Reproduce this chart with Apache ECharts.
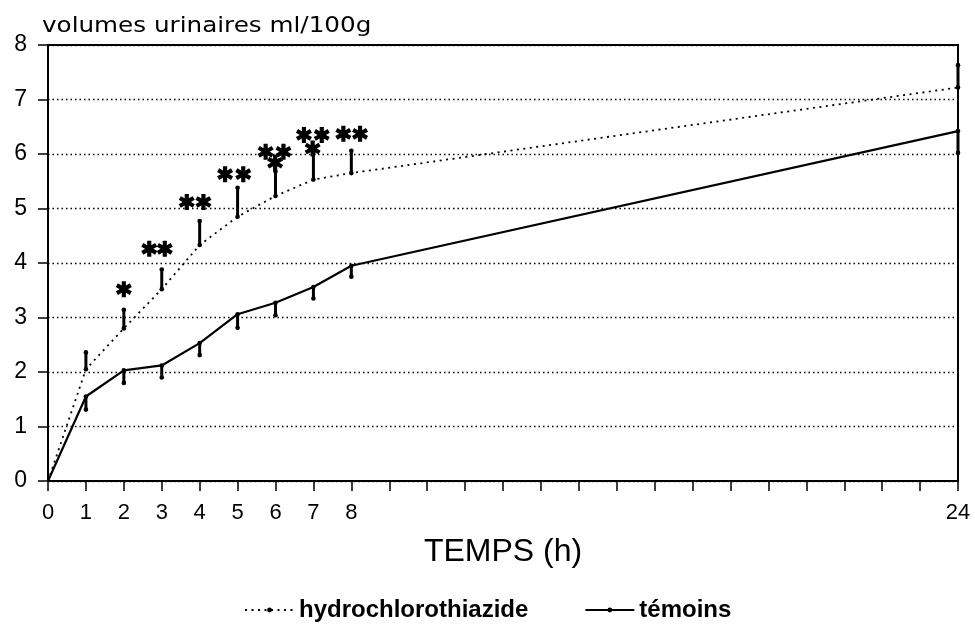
<!DOCTYPE html>
<html>
<head>
<meta charset="utf-8">
<script src="https://cdn.jsdelivr.net/npm/echarts@6/dist/echarts.min.js"></script>
<style>
  html, body { margin: 0; padding: 0; background: #fff; }
  #chart { width: 975px; height: 626px; }
</style>
</head>
<body>
<div id="chart"></div>
<script>
// Sampling times (h)
const hours = [0, 1, 2, 3, 4, 5, 6, 7, 8, 24];
// Cumulative urine volume, ml/100g — treated group, mean and mean + SEM
const hydroMean  = [0, 2.05, 2.8, 3.52, 4.33, 4.85, 5.23, 5.53, 5.65, 7.22];
const hydroUpper = [null, 2.36, 3.14, 3.88, 4.77, 5.38, 5.68, 6.0, 6.06, 7.63];
// Controls, mean and mean - SEM
const temoinsMean  = [0, 1.55, 2.03, 2.12, 2.53, 3.06, 3.27, 3.56, 3.95, 6.42];
const temoinsLower = [null, 1.31, 1.8, 1.9, 2.31, 2.81, 3.04, 3.35, 3.75, 6.02];
// Significance asterisks (data units)
const starX = [2.0, 2.67, 3.08, 3.66, 4.10, 4.67, 5.15, 5.74, 6.21, 5.99, 6.75, 7.22, 6.98, 7.79, 8.23];
const starY = [3.52, 4.26, 4.26, 5.12, 5.12, 5.63, 5.63, 6.04, 6.04, 5.84, 6.35, 6.35, 6.1, 6.37, 6.37];
// Hours that carry a tick label
const xLabelled = [0, 1, 2, 3, 4, 5, 6, 7, 8, 24];

const seriesNames = ['hydrochlorothiazide', 'témoins'];
const yTitle = 'volumes urinaires ml/100g';
const xTitle = 'TEMPS (h)';

// six-armed filled asterisk
const STAR = 'path://M37 0 L63 0 L63 27.48 L86.8 13.74 L99.8 36.26 L76 50 L99.8 63.74 L86.8 86.26 L63 72.52 L63 100 L37 100 L37 72.52 L13.2 86.26 L0.2 63.74 L24 50 L0.2 36.26 L13.2 13.74 L37 27.48 Z';

function pairs(xs, ys) { return xs.map((x, i) => [x, ys[i]]); }

function errorBars(means, ends) {
  const data = [];
  hours.forEach((h, i) => { if (ends[i] != null) data.push([h, means[i], ends[i]]); });
  return {
    type: 'custom',
    silent: true,
    z: 6,
    clip: false,
    data,
    encode: { x: 0, y: [1, 2] },
    renderItem(params, api) {
      const a = api.coord([api.value(0), api.value(1)]);
      const b = api.coord([api.value(0), api.value(2)]);
      return {
        type: 'group',
        children: [
          { type: 'line', shape: { x1: a[0], y1: a[1], x2: b[0], y2: b[1] },
            style: { stroke: '#000', lineWidth: 3 } },
          { type: 'circle', shape: { cx: a[0], cy: a[1], r: 2.3 }, style: { fill: '#000' } },
          { type: 'circle', shape: { cx: b[0], cy: b[1], r: 2.3 }, style: { fill: '#000' } }
        ]
      };
    }
  };
}

const chart = echarts.init(document.getElementById('chart'), null, { renderer: 'canvas' });

chart.setOption({
  animation: false,
  backgroundColor: '#fff',
  textStyle: { fontFamily: 'Liberation Sans', color: '#000' },
  grid: {
    left: 48, right: 17, top: 45, bottom: 145,
    show: true, borderColor: '#000', borderWidth: 2, backgroundColor: 'transparent'
  },
  xAxis: {
    type: 'value', min: 0, max: 24, interval: 1,
    name: xTitle, nameLocation: 'middle', nameGap: 55,
    nameTextStyle: { fontSize: 32, color: '#000', fontFamily: 'Liberation Sans' },
    axisLine: { lineStyle: { color: '#000', width: 2 } },
    axisTick: { length: 10, lineStyle: { color: '#000', width: 1.5 } },
    axisLabel: {
      margin: 21, fontSize: 22, color: '#000', fontFamily: 'Liberation Sans',
      showMaxLabel: true, showMinLabel: true,
      formatter: v => (xLabelled.indexOf(v) >= 0 ? String(v) : '')
    },
    splitLine: { show: false }
  },
  yAxis: {
    type: 'value', min: 0, max: 8, interval: 1,
    axisLine: { show: true, lineStyle: { color: '#000', width: 2 } },
    axisTick: { show: true, length: 10, lineStyle: { color: '#000', width: 1.5 } },
    axisLabel: { margin: 21, fontSize: 23, color: '#000', fontFamily: 'Liberation Sans' },
    splitLine: { show: true, lineStyle: { color: '#000', width: 1.3, type: [1.5, 3] } }
  },
  legend: {
    data: seriesNames,
    left: 239, top: 593,
    itemWidth: 49, itemHeight: 6, itemGap: 56,
    textStyle: { fontSize: 24, fontWeight: 'bold', color: '#000', fontFamily: 'Liberation Sans' }
  },
  graphic: [{
    type: 'text',
    x: 42, y: 26, scaleX: 1.12,
    style: {
      text: yTitle, fill: '#000',
      font: '22px "DejaVu Sans"', verticalAlign: 'middle', align: 'left'
    }
  }],
  series: [
    {
      name: seriesNames[0], type: 'line', data: pairs(hours, hydroMean),
      symbol: 'circle', symbolSize: 3, showSymbol: false,
      itemStyle: { color: '#000' },
      lineStyle: { color: '#000', width: 1.8, type: [2, 4.5] }, z: 3
    },
    {
      name: seriesNames[1], type: 'line', data: pairs(hours, temoinsMean),
      symbol: 'circle', symbolSize: 3, showSymbol: false,
      itemStyle: { color: '#000' },
      lineStyle: { color: '#000', width: 2.2, type: 'solid' }, z: 3
    },
    errorBars(hydroMean, hydroUpper),
    errorBars(temoinsMean, temoinsLower),
    {
      type: 'scatter', silent: true, z: 7,
      data: pairs(starX, starY),
      symbol: STAR, symbolSize: 16,
      itemStyle: { color: '#000', opacity: 1 }
    }
  ]
});
</script>
</body>
</html>
